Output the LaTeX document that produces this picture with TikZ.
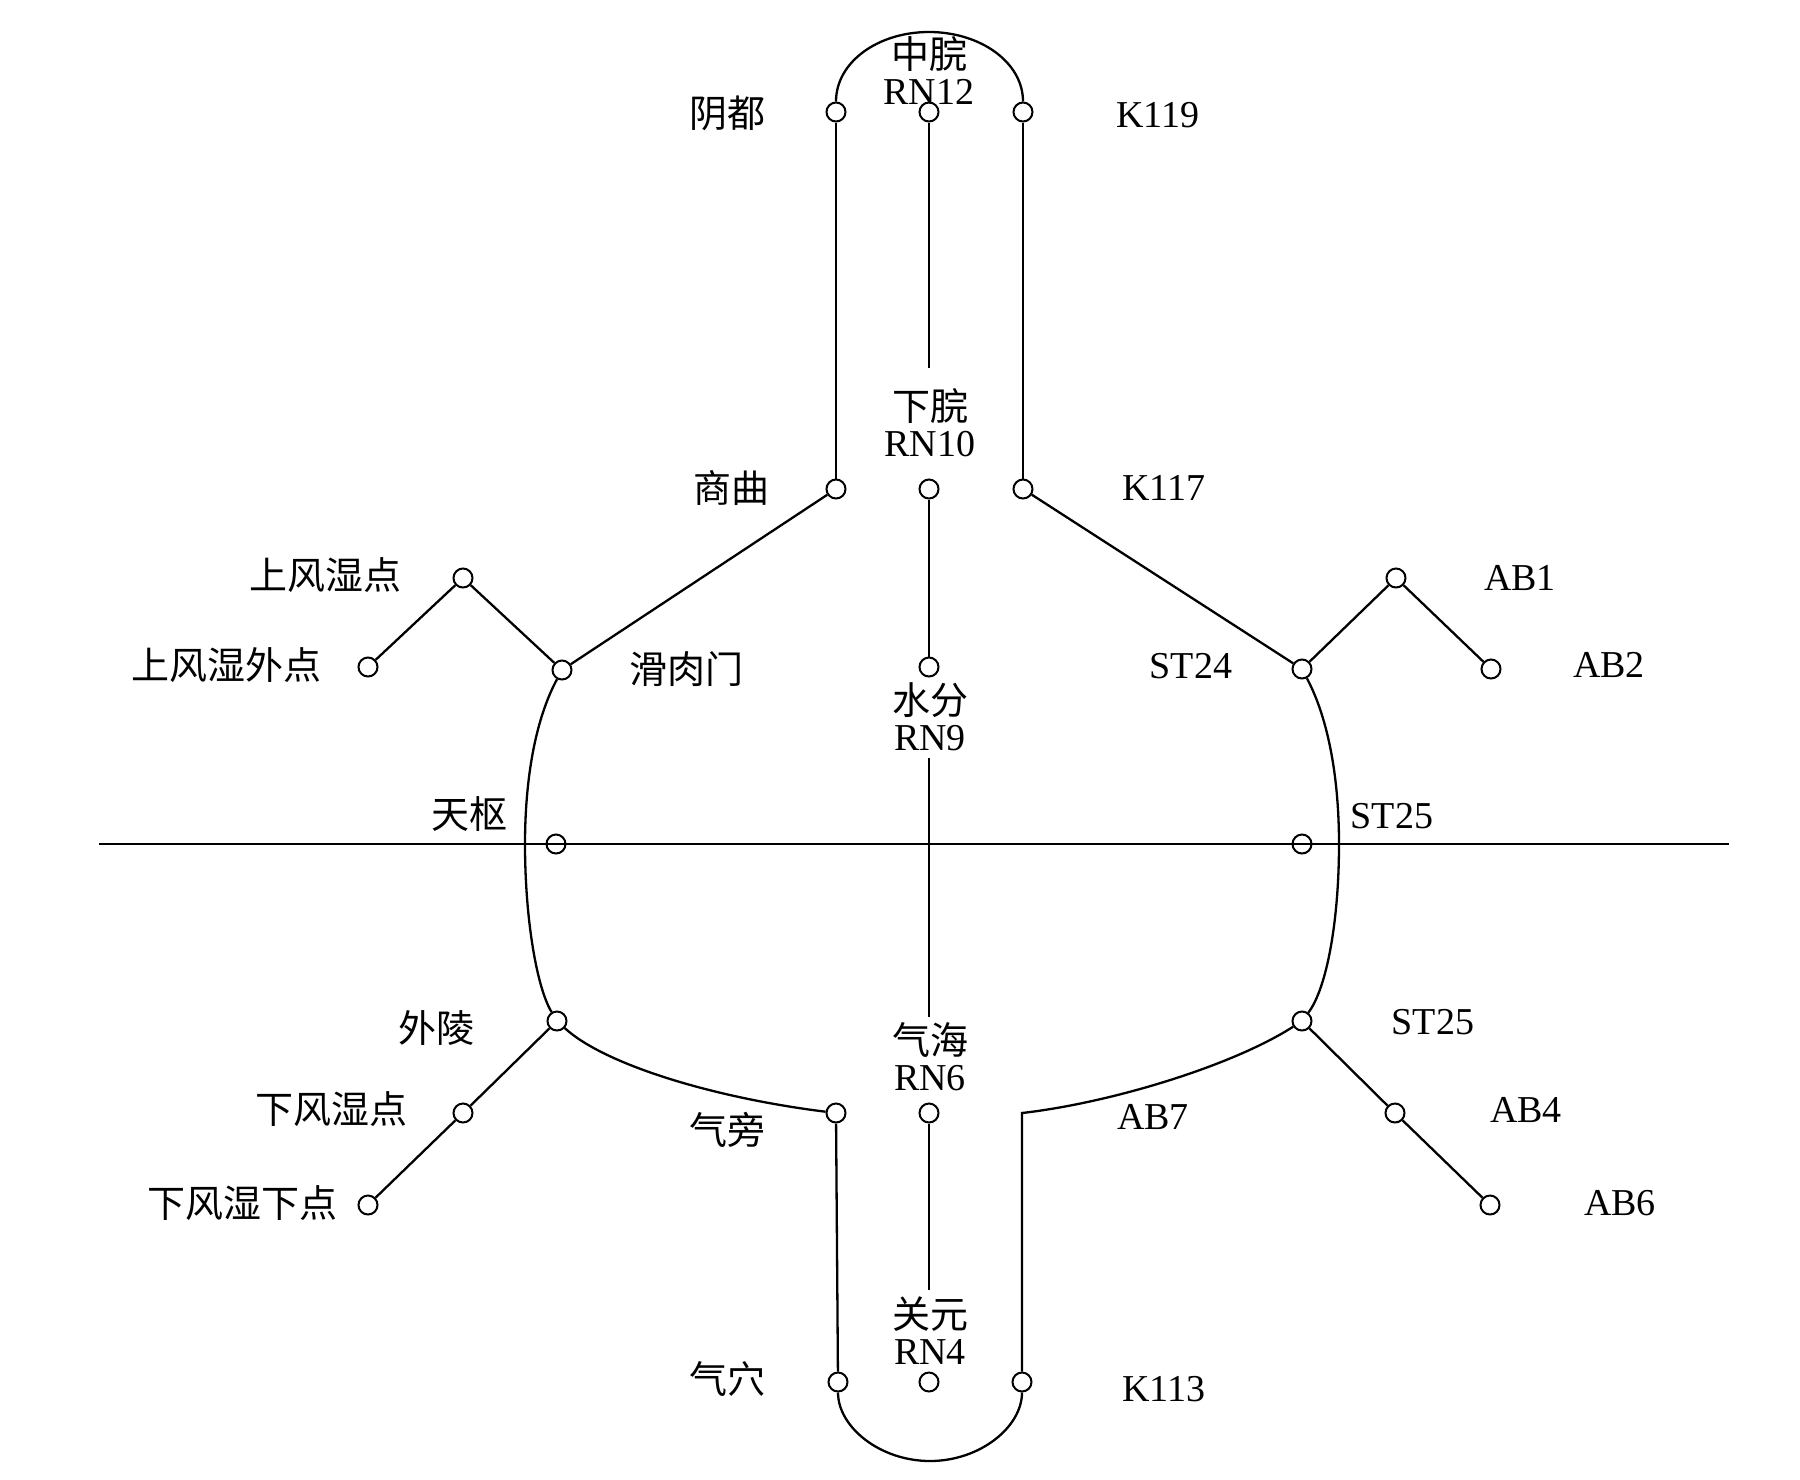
\documentclass[tikz,border=0pt]{standalone}
\usepackage{fontspec}
\setmainfont{Liberation Serif}
\newfontfamily\cjk{Noto Sans CJK SC}
\begin{document}
\begin{tikzpicture}[x=0.5pt,y=-0.5pt,
  pt/.style={circle,draw,line width=1pt,minimum size=9.5pt,inner sep=0pt},
  lbl/.style={inner sep=0pt,align=center,font=\fontsize{19}{18}\selectfont},
  ln/.style={line width=1.15pt}]
\useasboundingbox (0,0) rectangle (1800,1479);
% points
\node[pt] (yindu) at (836,112) {};
\node[pt] (rn12) at (929,112) {};
\node[pt] (k119) at (1023,112) {};
\node[pt] (shangqu) at (836,489) {};
\node[pt] (rn10) at (929,489) {};
\node[pt] (k117) at (1023,489) {};
\node[pt] (sfsd) at (463,578) {};
\node[pt] (ab1) at (1396,578) {};
\node[pt] (sfswd) at (368,667) {};
\node[pt] (hrm) at (562,670) {};
\node[pt] (rn9) at (929,667) {};
\node[pt] (st24) at (1302,669) {};
\node[pt] (ab2) at (1491,669) {};
\node[pt] (tianshu) at (556,844) {};
\node[pt] (st25) at (1302,844) {};
\node[pt] (wailing) at (557,1021) {};
\node[pt] (st25b) at (1302,1021) {};
\node[pt] (xfsd) at (463,1113) {};
\node[pt] (qipang) at (836,1113) {};
\node[pt] (rn6) at (929,1113) {};
\node[pt] (ab4) at (1395,1113) {};
\node[pt] (xfsxd) at (368,1205) {};
\node[pt] (ab6) at (1490,1205) {};
\node[pt] (qixue) at (838,1382) {};
\node[pt] (rn4) at (929,1382) {};
\node[pt] (k113) at (1022,1382) {};
% labels
\node[lbl] (t-yindu) at (727,113) {\cjk 阴都};
\node[lbl] (t-k119) at (1158,115) {K119};
\node[lbl] (t-rn12) at (929,70) {{\cjk 中脘}\\RN12};
\node[lbl] (t-rn10) at (930,423) {{\cjk 下脘}\\RN10};
\node[lbl] (t-shangqu) at (731,488) {\cjk 商曲};
\node[lbl] (t-k117) at (1164,488) {K117};
\node[lbl] (t-sfsd) at (325,575) {\cjk 上风湿点};
\node[lbl] (t-ab1) at (1520,578) {AB1};
\node[lbl] (t-sfswd) at (226,665) {\cjk 上风湿外点};
\node[lbl] (t-hrm) at (686,669) {\cjk 滑肉门};
\node[lbl] (t-st24) at (1191,666) {ST24};
\node[lbl] (t-ab2) at (1609,665) {AB2};
\node[lbl] (t-rn9) at (930,717) {{\cjk 水分}\\RN9};
\node[lbl] (t-tianshu) at (469,814) {\cjk 天枢};
\node[lbl] (t-st25) at (1392,816) {ST25};
\node[lbl] (t-wailing) at (436,1028) {\cjk 外陵};
\node[lbl] (t-st25b) at (1433,1022) {ST25};
\node[lbl] (t-rn6) at (930,1057) {{\cjk 气海}\\RN6};
\node[lbl] (t-xfsd) at (331,1109) {\cjk 下风湿点};
\node[lbl] (t-ab4) at (1526,1110) {AB4};
\node[lbl] (t-qipang) at (727,1130) {\cjk 气旁};
\node[lbl] (t-ab7) at (1153,1117) {AB7};
\node[lbl] (t-xfsxd) at (242,1203) {\cjk 下风湿下点};
\node[lbl] (t-ab6) at (1620,1203) {AB6};
\node[lbl] (t-rn4) at (930,1331) {{\cjk 关元}\\RN4};
\node[lbl] (t-qixue) at (727,1379) {\cjk 气穴};
\node[lbl] (t-k113) at (1164,1389) {K113};
% free ends
\coordinate (hl) at (99,844);
\coordinate (hr) at (1729,844);
\coordinate (m1) at (929,368);
\coordinate (m2) at (929,758);
\coordinate (m3) at (929,1017);
\coordinate (m4) at (929,1290);
\coordinate (corner) at (1022,1113);
% horizontal line
\draw[ln] (hl) -- (hr);
% middle column
\draw[ln] (rn12) -- (m1);
\draw[ln] (rn10) -- (rn9);
\draw[ln] (m2) -- (m3);
\draw[ln] (rn6) -- (m4);
% outer loop
\draw[ln] (yindu.north) .. controls (836,62) and (878,32) .. (929,32)
  .. controls (980,32) and (1023,62) .. (k119.north);
\draw[ln] (yindu) -- (shangqu);
\draw[ln] (k119) -- (k117);
\draw[ln] (shangqu) -- (hrm);
\draw[ln] (k117) -- (st24);
\draw[ln] (hrm) .. controls (535,720) and (525,780) .. (525,844)
  .. controls (525,920) and (537,988) .. (wailing);
\draw[ln] (st24) .. controls (1329,720) and (1339,780) .. (1339,844)
  .. controls (1339,920) and (1327,988) .. (st25b);
\draw[ln] (wailing) .. controls (605,1065) and (715,1098) .. (qipang);
\draw[ln] (qipang) -- (qixue);
\draw[ln] (qixue.south) .. controls (838,1427) and (880,1461) .. (930,1461)
  .. controls (980,1461) and (1022,1427) .. (k113.south);
\draw[ln] (k113) -- (corner) .. controls (1110,1103) and (1232,1066) .. (st25b);
% branches
\draw[ln] (sfswd) -- (sfsd) -- (hrm);
\draw[ln] (st24) -- (ab1) -- (ab2);
\draw[ln] (wailing) -- (xfsd) -- (xfsxd);
\draw[ln] (st25b) -- (ab4) -- (ab6);
\end{tikzpicture}
\end{document}
